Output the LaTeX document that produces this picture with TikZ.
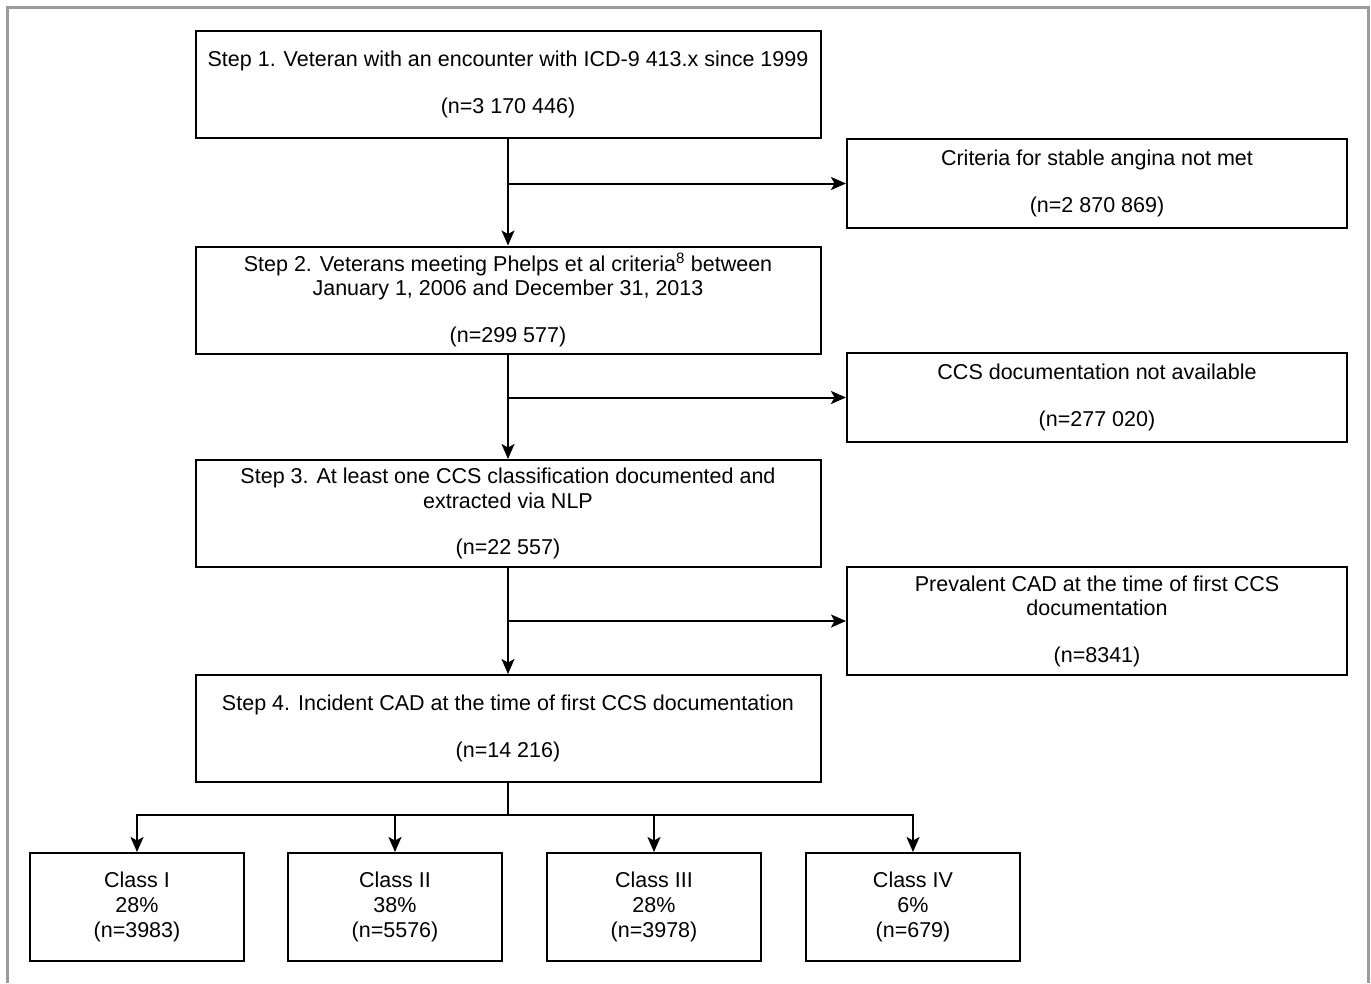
\documentclass[tikz,border=0pt]{standalone}
\usepackage{fontspec}
\setmainfont{Liberation Sans}
\usetikzlibrary{arrows.meta}
\tikzset{
  stepbox/.style={draw, line width=2pt, minimum width=625pt, minimum height=107pt,
    align=center, inner sep=0pt, font=\fontsize{21.5}{24.5}\selectfont},
  exclbox/.style={stepbox, minimum width=500pt, minimum height=89pt},
  classbox/.style={stepbox, minimum width=214pt, minimum height=108pt, font=\fontsize{21.5}{25}\selectfont},
  arr/.style={line width=2pt, -{Stealth[length=15pt,width=13pt,inset=3.5pt]}}
}
\begin{document}
\begin{tikzpicture}[x=1pt,y=-1pt]
        \useasboundingbox (0,0) rectangle (1371,983);
        \draw[line width=3.5pt, color={rgb,255:red,155;green,155;blue,155}]
          (7.5,983) -- (7.5,7.5) -- (1368.5,7.5) -- (1368.5,983);

        \node[stepbox] (S1) at (508,84.5){Step 1. Veteran with an encounter with ICD-9 413.x since 1999\\[22pt](n=3 170 446)};
        \node[stepbox] (S2) at (508,300){Step 2. Veterans meeting Phelps et al criteria\textsuperscript{8} between\\January 1, 2006 and December 31, 2013\\[22pt](n=299 577)};
        \node[stepbox] (S3) at (508,513.5){Step 3. At least one CCS classification documented and\\extracted via NLP\\[22pt](n=22 557)};
        \node[stepbox] (S4) at (508,728.5){Step 4. Incident CAD at the time of first CCS documentation\\[22pt](n=14 216)};

        \node[exclbox] (E1) at (1097,183.5){Criteria for stable angina not met\\[22pt](n=2 870 869)};
        \node[exclbox] (E2) at (1097,397.5){CCS documentation not available\\[22pt](n=277 020)};
        \node[exclbox, minimum height=108pt] (E3) at (1097,621){Prevalent CAD at the time of first CCS\\documentation\\[22pt](n=8341)};

        \node[classbox] (C1) at (137,907){Class I\\28\%\\(n=3983)};
        \node[classbox] (C2) at (395,907){Class II\\38\%\\(n=5576)};
        \node[classbox] (C3) at (654,907){Class III\\28\%\\(n=3978)};
        \node[classbox] (C4) at (913,907){Class IV\\6\%\\(n=679)};

        \coordinate (b1) at (508,183.5);
        \coordinate (b2) at (508,397.5);
        \coordinate (b3) at (508,621);
        \coordinate (j) at (508,815);

        \draw[arr] (S1) -- (S2);
        \draw[arr] (S2) -- (S3);
        \draw[arr] (S3) -- (S4);
        \draw[arr] (b1) -- (E1);
        \draw[arr] (b2) -- (E2);
        \draw[arr] (b3) -- (E3);

        \draw[line width=2pt] (S4) -- (j);
        \foreach \i in {1,...,4}
          \draw[arr] (j) -| (C\i);
      \end{tikzpicture}
\end{document}
